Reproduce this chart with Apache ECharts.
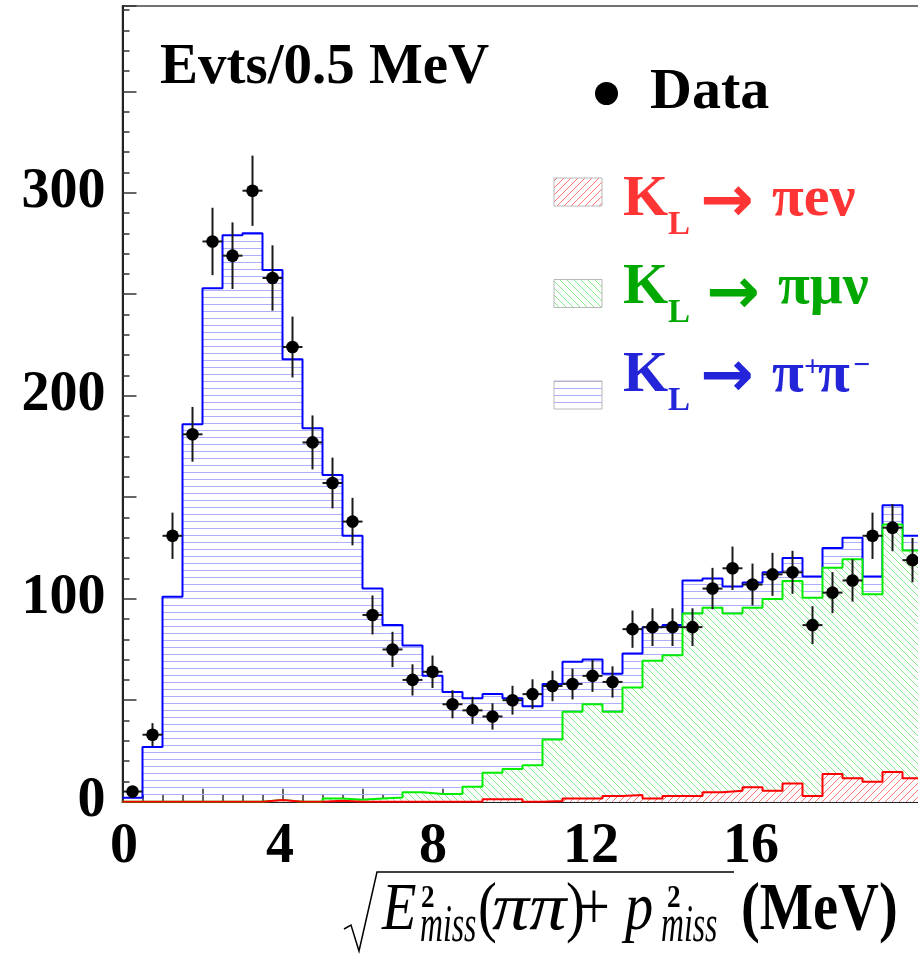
<!DOCTYPE html>
<html><head><meta charset="utf-8">
<script src="https://cdn.jsdelivr.net/npm/echarts@6/dist/echarts.min.js"></script>
<style>html,body{margin:0;padding:0;background:#fff;}#c{width:918px;height:957px;}</style>
</head><body><div id="c"></div>
<script>
// ---- data (bins of 0.5 MeV) ----
const binLow = [0,0.5,1,1.5,2,2.5,3,3.5,4,4.5,5,5.5,6,6.5,7,7.5,8,8.5,9,9.5,10,10.5,11,11.5,12,12.5,13,13.5,14,14.5,15,15.5,16,16.5,17,17.5,18,18.5,19,19.5];
const binWidth = 0.5;
const dataCounts = [5,33,131,181,276,269,301,258,224,177,157,138,92,75,60,64,48,45,42,50,53,57,58,62,59,85,86,86,86,105,115,107,112,113,87,103,109,131,135,119];
const dataErrors = [2.2,5.7,11.4,13.5,16.6,16.4,17.3,16.1,15,13.3,12.5,11.7,9.6,8.7,7.7,8,6.9,6.7,6.5,7.1,7.3,7.5,7.6,7.9,7.7,9.2,9.3,9.3,9.3,10.2,10.7,10.3,10.6,10.6,9.3,10.1,10.4,11.4,11.6,10.9];
const kPiENu = [0,0,0,0,0,0,0,0.8,0,0,0.5,0,0,0,0,0,0,0,1.2,1.2,0,0.3,1.6,1.6,2.8,3.3,1.6,2.8,2.8,4.6,5.4,7.1,5.4,9,2.8,13.6,11.5,9.8,14.6,11.5];
const kPiMuNu = [0,0,0,0,0,0,0,0,0,0,1.1,1.0,1.6,2.1,4.6,3.8,3.8,7.4,13.1,14.9,18,30.4,42.7,46.4,41.5,53,67.9,69.4,89.9,91,87.3,88.5,94.5,99.7,97.7,101.7,108,92.4,122,112.3];
const kPiPi = [2,27,101,186,253,279,280,261.2,218,184,159.4,130,103.4,84.9,72.4,58.2,50.2,43.6,38.7,34.9,29,27.3,24.7,22,18.7,16.7,16.5,14.8,16.3,14.4,13.3,12.4,13.1,11.3,10.5,9.7,10.5,8.8,9.4,7.2];
const xTickLabels = [0,4,8,12,16];
const yTickLabels = [0,100,200,300];
const xMin = 0, xMax = 20, yMin = 0, yMax = 392;

// stacked tops (THStack style): red, red+green, red+green+blue
const stackRed = kPiENu.slice();
const stackGreen = kPiENu.map((v, i) => v + kPiMuNu[i]);
const stackTotal = stackGreen.map((v, i) => v + kPiPi[i]);

function hatch(kind, color, size, bg) {
  const c = document.createElement('canvas');
  c.width = size; c.height = size;
  const g = c.getContext('2d');
  if (bg) { g.fillStyle = bg; g.fillRect(0, 0, size, size); }
  g.fillStyle = color;
  for (let i = 0; i < size; i++) {
    if (kind === 'h') { g.fillRect(0, Math.floor(size / 2), size, 1); break; }
    else if (kind === '/') g.fillRect(i, size - 1 - i, 1, 1);
    else g.fillRect(i, i, 1, 1);
  }
  return c;
}
const greenImg = hatch('\\', 'rgb(134,232,134)', 7, '#ffffff');
const blueImg = hatch('h', 'rgb(174,174,250)', 7, null);
const redImg = hatch('/', 'rgb(255,118,118)', 7, '#ffffff');
const pat = img => ({ image: img, repeat: 'repeat' });

function stepData(vals) {
  const d = vals.map((v, i) => [binLow[i], v]);
  d.push([xMax, vals[vals.length - 1]]);
  return d;
}

const SERIF = '"Liberation Serif","Times New Roman",serif';
function txt(str, x, base, size, color, o) {
  o = o || {};
  return {
    type: 'text', x: x, y: base - 0.3 * size, z: 100,
    scaleX: o.sx || 1,
    style: {
      text: str, fill: color,
      fontSize: size, fontFamily: o.family || SERIF,
      fontWeight: o.bold ? 'bold' : 'normal', fontStyle: o.italic ? 'italic' : 'normal',
      textAlign: 'left', textVerticalAlign: 'middle', align: 'left', verticalAlign: 'middle'
    }
  };
}

const RED = '#ff3434', GREEN = '#00a800', BLUE = '#2424d8';
const ARROW = '"DejaVu Sans",sans-serif';
const TB = 932;   // axis-title baseline
const graphics = [
  txt('Evts/0.5 MeV', 160, 85, 57, '#000', { bold: true }),
  { type: 'circle', shape: { cx: 606.5, cy: 93.5, r: 11.5 }, style: { fill: '#000' }, z: 100 },
  txt('Data', 650, 110, 58, '#000', { bold: true }),
  { type: 'rect', shape: { x: 554, y: 178, width: 48, height: 28 }, style: { fill: pat(redImg), stroke: '#b8b8b8', lineWidth: 1 }, z: 100 },
  { type: 'rect', shape: { x: 554, y: 279.5, width: 48, height: 28 }, style: { fill: pat(greenImg), stroke: '#b8b8b8', lineWidth: 1 }, z: 100 },
  { type: 'rect', shape: { x: 554, y: 381, width: 48, height: 28 }, style: { fill: pat(blueImg), stroke: '#b8b8b8', lineWidth: 1 }, z: 100 },
  txt('K', 623, 217, 58, RED, { bold: true }),
  txt('L', 668, 235, 33, RED, { bold: true }),
  txt('\u2192', 700, 224, 64, RED, { bold: true, family: ARROW }),
  txt('\u03c0e\u03bd', 772, 217, 58, RED, { bold: true }),
  txt('K', 623, 305, 58, GREEN, { bold: true }),
  txt('L', 668, 323, 33, GREEN, { bold: true }),
  txt('\u2192', 706, 316, 64, GREEN, { bold: true, family: ARROW }),
  txt('\u03c0\u03bc\u03bd', 778, 305, 58, GREEN, { bold: true }),
  txt('K', 623, 393, 58, BLUE, { bold: true }),
  txt('L', 668, 411, 33, BLUE, { bold: true }),
  txt('\u2192', 700, 399, 64, BLUE, { bold: true, family: ARROW }),
  txt('\u03c0', 772, 393, 58, BLUE, { bold: true }),
  txt('+', 804, 377, 30, BLUE, { bold: true }),
  txt('\u03c0', 818, 393, 58, BLUE, { bold: true }),
  txt('\u2212', 853, 375, 30, BLUE, { bold: true }),
  // x-axis title
  { type: 'polyline', shape: { points: [[344, 929], [351, 925], [359, 951], [377, 872], [734, 872]] }, style: { stroke: '#000', lineWidth: 1.5, fill: null }, z: 100 },
  txt('E', 382, TB, 68, '#000', { italic: true, sx: 0.83 }),
  txt('2', 421, 908, 32, '#000', { bold: true, sx: 0.85 }),
  txt('miss', 420, 943, 52, '#000', { italic: true, sx: 0.61 }),
  txt('(', 478, TB, 68, '#000', { sx: 0.83 }),
  txt('\u03c0\u03c0', 492, TB, 68, '#000', { italic: true, sx: 1.09 }),
  txt(')', 566, TB, 68, '#000', { sx: 0.83 }),
  txt('+', 578, TB, 68, '#000', { sx: 0.83 }),
  txt('p', 625, TB, 68, '#000', { italic: true, sx: 0.83 }),
  txt('2', 667, 908, 32, '#000', { bold: true, sx: 0.85 }),
  txt('miss', 661, 943, 52, '#000', { italic: true, sx: 0.61 }),
  txt('(MeV)', 741, TB, 68, '#000', { bold: true, sx: 0.83 })
];

function histSeries(name, vals, color, img, z) {
  return {
    type: 'line', name: name, step: 'end', symbol: 'none',
    data: stepData(vals), z: z, animation: false,
    lineStyle: { color: color, width: 2 },
    itemStyle: { color: color },
    areaStyle: { color: pat(img), opacity: 1, origin: 'start' }
  };
}

const labFont = { fontSize: 56, fontWeight: 'bold', fontFamily: SERIF, color: '#000' };
const xLabelRich = {
  l0: Object.assign({ padding: [0, 0, 0, 3] }, labFont),
  l4: Object.assign({ padding: [0, 5, 0, 0] }, labFont),
  l8: Object.assign({ padding: [0, 19, 0, 0] }, labFont),
  l12: Object.assign({ padding: [0, 23, 0, 0] }, labFont),
  l16: Object.assign({ padding: [0, 23, 0, 0] }, labFont)
};

const chart = echarts.init(document.getElementById('c'), null, { renderer: 'canvas' });
chart.setOption({
  animation: false,
  backgroundColor: '#fff',
  grid: { left: 122.5, top: 6, width: (xMax - xMin) * 40, height: 795.7, show: true, borderColor: '#444', borderWidth: 1.5, backgroundColor: 'transparent', containLabel: false, outerBoundsMode: 'none' },
  xAxis: {
    type: 'value', min: xMin, max: xMax, interval: 2,
    axisLine: { show: true, onZero: false, lineStyle: { color: '#222', width: 2 } },
    axisTick: { show: true, inside: true, length: 13, lineStyle: { color: '#333', width: 1.5 } },
    minorTick: { show: true, splitNumber: 4, length: 7, lineStyle: { color: '#333', width: 1.5 } },
    splitLine: { show: false }, minorSplitLine: { show: false },
    axisLabel: {
      show: true, margin: 18, color: '#000', fontSize: 56, fontWeight: 'bold', fontFamily: SERIF,
      rich: xLabelRich,
      formatter: v => (xTickLabels.indexOf(v) >= 0 ? '{l' + v + '|' + v + '}' : '')
    }
  },
  yAxis: {
    type: 'value', min: yMin, max: yMax, interval: 50,
    axisLine: { show: true, onZero: false, lineStyle: { color: '#222', width: 2 } },
    axisTick: { show: true, inside: true, length: 14, lineStyle: { color: '#333', width: 1.5 } },
    minorTick: { show: true, splitNumber: 5, length: 7, lineStyle: { color: '#333', width: 1.5 } },
    splitLine: { show: false }, minorSplitLine: { show: false },
    axisLabel: {
      show: true, margin: 17, color: '#000', fontSize: 56, fontWeight: 'bold', fontFamily: SERIF,
      formatter: v => (yTickLabels.indexOf(v) >= 0 ? String(v) : '')
    }
  },
  series: [
    histSeries('K\u2097\u2192\u03c0\u207a\u03c0\u207b', stackTotal, '#0000ff', blueImg, 3),
    histSeries('K\u2097\u2192\u03c0\u03bc\u03bd', stackGreen, '#00ee00', greenImg, 4),
    histSeries('K\u2097\u2192\u03c0e\u03bd', stackRed, '#ff0000', redImg, 5),
    {
      type: 'custom', name: 'Data', z: 10, animation: false,
      data: dataCounts.map((v, i) => [binLow[i] + binWidth / 2, v, dataErrors[i]]),
      encode: { x: 0, y: 1 },
      renderItem: function (params, api) {
        const x = api.value(0), y = api.value(1), e = api.value(2);
        const c = api.coord([x, y]);
        const t = api.coord([x, y + e]);
        const b = api.coord([x, Math.max(0, y - e)]);
        const l = api.coord([x - binWidth / 2, y]);
        const r = api.coord([x + binWidth / 2, y]);
        return {
          type: 'group', children: [
            { type: 'line', shape: { x1: t[0], y1: t[1], x2: b[0], y2: b[1] }, style: { stroke: '#1a1a1a', lineWidth: 2 } },
            { type: 'line', shape: { x1: l[0], y1: l[1], x2: r[0], y2: r[1] }, style: { stroke: '#1a1a1a', lineWidth: 2 } },
            { type: 'circle', shape: { cx: c[0], cy: c[1], r: 6.3 }, style: { fill: '#000' } }
          ]
        };
      }
    }
  ],
  graphic: graphics
});
</script>
</body></html>
